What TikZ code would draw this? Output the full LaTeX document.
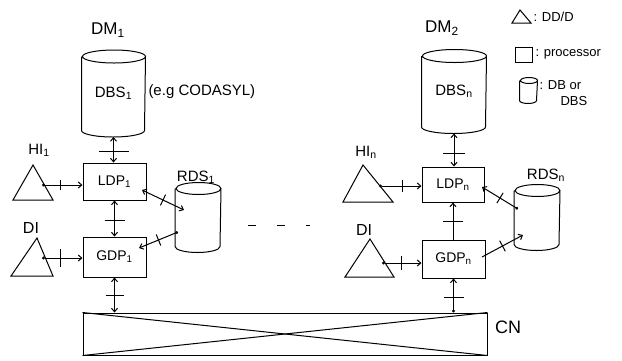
\documentclass[tikz,border=0pt]{standalone}
\usepackage{fontspec}
\setmainfont{Liberation Sans}
\usetikzlibrary{arrows.meta,decorations.markings,calc}
\tikzset{
  tipb/.tip={Straight Barb[length=3.5pt,width=6pt]},
  dotb/.tip={Circle[open,length=3pt]}
}
% cylinder outline around a named rectangular node: #1 name, #2 x radius, #3 y radius
\newcommand\cylbody[3]{%
  \draw ([yshift=-#3]#1.north west) -- ([yshift=#3]#1.south west)
    arc[start angle=180,end angle=360,x radius=#2,y radius=#3]
    -- ([yshift=-#3]#1.north east)
    arc[start angle=0,end angle=360,x radius=#2,y radius=#3];}
\begin{document}
\begin{tikzpicture}[x=1pt,y=-1pt,line width=1pt,
  proc/.style={draw, rectangle, inner sep=0pt, font=\fontsize{14}{16}\selectfont},
  db/.style={rectangle, inner sep=0pt, font=\fontsize{15}{17}\selectfont},
  lab/.style={inner sep=0pt, font=\fontsize{15}{17}\selectfont},
  leg/.style={inner sep=0pt, anchor=west, font=\fontsize{13}{15}\selectfont},
  tk/.style 2 args={postaction={decorate,decoration={markings,
      mark=at position #1 with {\draw[-,line width=1pt] (0pt,-#2pt) -- (0pt,#2pt);}}}},
  con/.style={line width=1pt}]
\useasboundingbox (0,0) rectangle (622,360);

% databases
\node[db, minimum width=63, minimum height=86] (dbs1) at (113.5,93.5) {DBS\textsubscript{1}};
\cylbody{dbs1}{31.5pt}{6.5pt}
\node[db, minimum width=64, minimum height=83] (dbsn) at (454,91.5) {DBS\textsubscript{n}};
\cylbody{dbsn}{32pt}{6.5pt}
\node[db, minimum width=45, minimum height=69] (rds1) at (198,217.5) {};
\cylbody{rds1}{22.5pt}{6pt}
\node[db, minimum width=45, minimum height=65] (rdsn) at (537,217.5) {};
\cylbody{rdsn}{22.5pt}{6pt}

% processors
\node[proc, minimum width=63, minimum height=37] (ldp1) at (114.5,181.5) {LDP\textsubscript{1}};
\node[proc, minimum width=63, minimum height=40] (gdp1) at (114.5,257) {GDP\textsubscript{1}};
\node[proc, minimum width=62, minimum height=35] (ldpn) at (453,184.5) {LDP\textsubscript{n}};
\node[proc, minimum width=63, minimum height=38] (gdpn) at (453.5,259) {GDP\textsubscript{n}};

% communication network
\node[draw, rectangle, minimum width=404, minimum height=42, inner sep=0pt] (cn) at (285,334) {};
\draw (cn.north west) -- (cn.south east);
\draw (cn.south west) -- (cn.north east);

% DD/D triangles
\draw (33,165) -- (53,200) -- (13,200) -- cycle;
\coordinate (hi1) at (42,185);
\draw (37,238) -- (53,276) -- (11,276) -- cycle;
\coordinate (di1) at (42,258);
\draw (363,165) -- (393,202) -- (343,202) -- cycle;
\coordinate (hin) at (379,186);
\draw (370,239) -- (394,277) -- (345,277) -- cycle;
\coordinate (din) at (382,263);

% connector end points on diagonals
\coordinate (l1r) at (142,190);
\coordinate (r1l) at (184,210);
\coordinate (r1g) at (178,232);
\coordinate (g1r) at (139,248);
\coordinate (lnr) at (482,187);
\coordinate (rnl) at (518,209);
\coordinate (gnr) at (482,257);
\coordinate (rng) at (523,235);

% labels
\node[lab, font=\fontsize{17}{19}\selectfont] (dm1) at (108,30) {DM\textsubscript{1}};
\node[lab, font=\fontsize{17}{19}\selectfont] (dm2) at (442,28) {DM\textsubscript{2}};
\node[lab, anchor=west] (eg) at (148,92) {(e.g CODASYL)};
\node[lab] (hi1l) at (39,150) {HI\textsubscript{1}};
\node[lab, font=\fontsize{16}{18}\selectfont] (di1l) at (31,228) {DI};
\node[lab] (rds1l) at (196,177) {RDS\textsubscript{1}};
\node[lab] (hinl) at (366,152) {HI\textsubscript{n}};
\node[lab, font=\fontsize{16}{18}\selectfont] (dinl) at (364,230) {DI};
\node[lab] (rdsnl) at (546,175) {RDS\textsubscript{n}};
\node[lab, font=\fontsize{18}{20}\selectfont] (cnl) at (508,327) {CN};

% left connectors
\draw[con,{tipb}-{tipb},tk={0.55}{15}] (dbs1.south) -- (dbs1.south |- ldp1.north);
\draw[con,{dotb}-{tipb},tk={0.45}{5}] (hi1) -- (hi1 -| ldp1.west);
\draw[con,{tipb}-{tipb},tk={0.5}{6}] (l1r) -- (r1l);
\draw[con,{tipb}-{tipb},tk={0.55}{10}] (ldp1.south) -- (ldp1.south |- gdp1.north);
\draw[con,{dotb}-{tipb},tk={0.5}{6}] (r1g) -- (g1r);
\draw[con,{dotb}-{tipb},tk={0.45}{9}] (di1) -- (di1 -| gdp1.west);
\draw[con,{tipb}-{tipb},tk={0.5}{9}] (gdp1.south) -- (gdp1.south |- cn.north);

% right connectors
\draw[con,{tipb}-{tipb},tk={0.6}{11}] (dbsn.south) -- (dbsn.south |- ldpn.north);
\draw[con,{dotb}-{tipb},tk={0.55}{6}] (hin) -- (hin -| ldpn.west);
\draw[con,{dotb}-{tipb},tk={0.5}{6}] (rnl) -- (lnr);
\draw[con,-{tipb},tk={0.5}{10}] (ldpn.south |- gdpn.north) -- (ldpn.south);
\draw[con,-{tipb},tk={0.5}{6}] (gnr) -- (rng);
\draw[con,{dotb}-{tipb},tk={0.5}{7}] (din) -- (din -| gdpn.west);
\draw[con,{dotb}-{tipb},tk={0.45}{10}] (gdpn.south |- cn.north) -- (gdpn.south);

% ellipsis
\draw[dash pattern=on 8pt off 21pt] (248,225) -- (310,225);

% legend
\draw (520,10) -- (531,23) -- (512,23) -- cycle;
\node[leg] (lg1) at (533,17) {: DD/D};
\node[draw, rectangle, minimum width=17, minimum height=15, inner sep=0pt] (lgp) at (523.5,54.5) {};
\node[leg] (lg2) at (535,54) {: processor};
\node[db, minimum width=17, minimum height=25] (lgd) at (528.5,90.5) {};
\cylbody{lgd}{8.5pt}{3pt}
\node[leg] (lg3) at (539,85) {: DB or};
\node[leg] (lg4) at (560,101) {DBS};
\end{tikzpicture}
\end{document}
